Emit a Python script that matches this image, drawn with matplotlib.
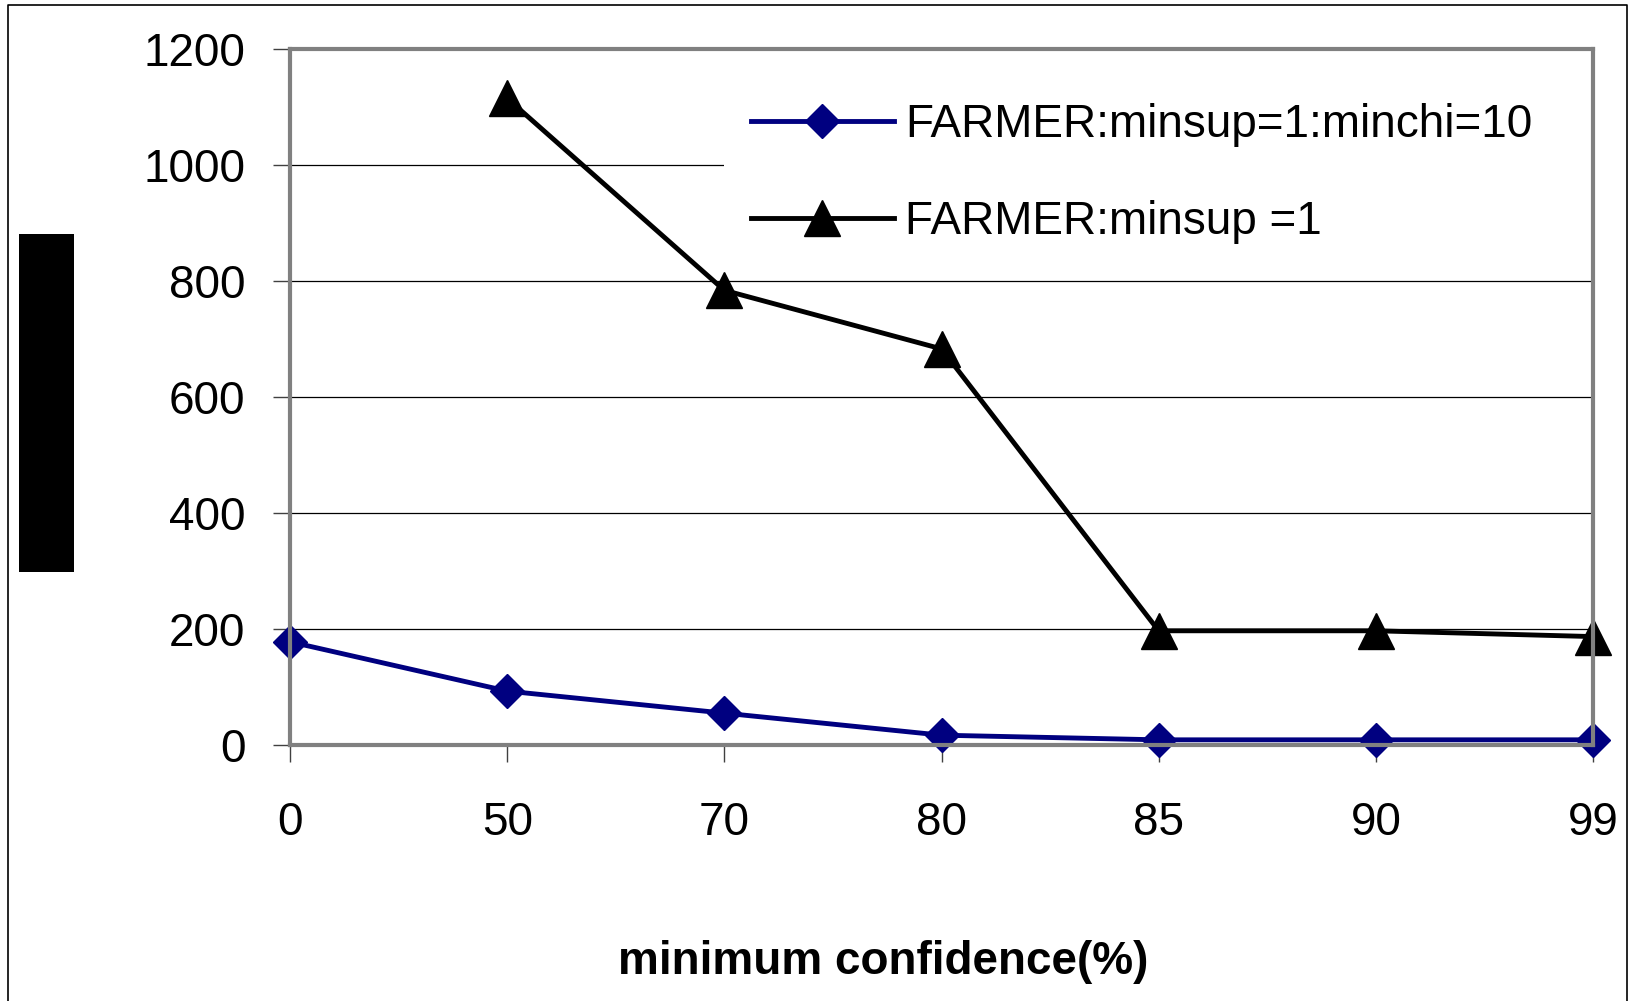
import numpy as np
import matplotlib
matplotlib.use("Agg")
from matplotlib import pyplot as plt
from matplotlib.patches import Rectangle
from matplotlib.lines import Line2D

plt.rcParams["font.family"] = ["Liberation Sans", "DejaVu Sans"]

# データ
confidence = ["0", "50", "70", "80", "85", "90", "99"]
minchi10 = [178, 93, 55, 17, 9, 9, 9]
minsup1 = [np.nan, 1115, 784, 683, 197, 197, 187]
yticks = [0, 200, 400, 600, 800, 1000, 1200]

fig = plt.figure(figsize=(16.35, 10.01), dpi=100)
ax = fig.add_axes([0.1774, 0.2557, 0.7969, 0.6953])

x = np.arange(len(confidence))

ax.plot(x, minchi10, color="#000080", linewidth=3.5, marker="D", markersize=17,
        label="FARMER:minsup=1:minchi=10", clip_on=False, zorder=3)
ax.plot(x, minsup1, color="black", linewidth=3.5, marker="^", markersize=26,
        label="FARMER:minsup =1", clip_on=False, zorder=3)

ax.set_xlim(0, len(confidence) - 1)
ax.set_ylim(0, 1200)
ax.set_xticks(x)
ax.set_xticklabels(confidence)
ax.set_yticks(yticks)

# グリッドと枠
ax.yaxis.grid(True, color="black", linewidth=0.9)
ax.set_axisbelow(True)
for s in ax.spines.values():
    s.set_color("#808080")
    s.set_linewidth(3)
    s.set_zorder(4)

ax.tick_params(axis="both", labelsize=33, length=12, width=1, color="#404040", direction="out")
ax.tick_params(axis="y", pad=20)
ax.tick_params(axis="x", pad=28)

ax.set_xlabel("minimum confidence(%)", fontsize=33, fontweight="bold")
ax.xaxis.set_label_coords(0.455, -0.28)

leg = ax.legend(loc="upper left", bbox_to_anchor=(0.333, 0.0, 0.667, 0.962), mode="expand",
                borderaxespad=0, fontsize=33, handlelength=3.1, handletextpad=0.25,
                labelspacing=1.16, borderpad=0.6, frameon=True, fancybox=False,
                framealpha=1, facecolor="white", edgecolor="none")
leg.set_zorder(3.5)

# 左の黒い四角 (y軸ラベル)
fig.patches.append(Rectangle((0.0116, 0.4286), 0.0336, 0.3377, transform=fig.transFigure,
                             facecolor="black", edgecolor="none"))

# 図の外枠
fig.lines.append(Line2D([0.0049, 0.0049, 0.9951, 0.9951], [0.0, 0.995, 0.995, 0.0],
                        transform=fig.transFigure, color="black", linewidth=1.2))

fig.savefig("out.png", dpi=100)
